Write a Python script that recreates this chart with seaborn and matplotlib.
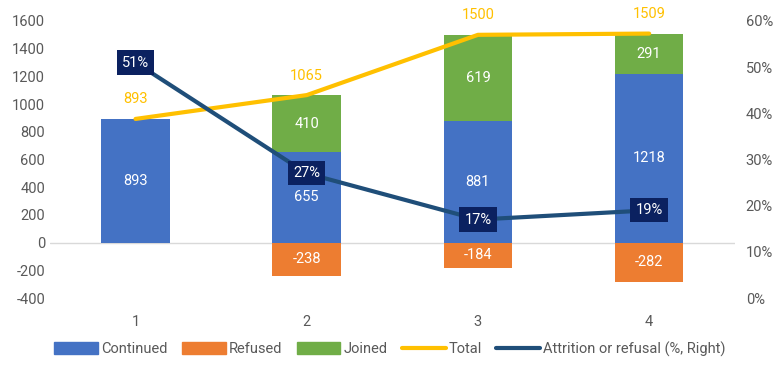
import matplotlib
matplotlib.use("Agg")
import matplotlib.pyplot as plt
import seaborn as sns
import pandas as pd
from matplotlib.lines import Line2D
from matplotlib.patches import Patch

# data
categories = ["1", "2", "3", "4"]
continued = [893, 655, 881, 1218]
refused = [0, -238, -184, -282]
joined = [0, 410, 619, 291]
total = [893, 1065, 1500, 1509]
attrition = [0.51, 0.27, 0.17, 0.19]

c_cont = "#4472C4"
c_ref = "#ED7D31"
c_join = "#70AD47"
c_tot = "#FFC000"
c_att = "#1F4E79"
c_box = "#0B2160"
grey = "#595959"

sns.set_style("white")
plt.rcParams["font.family"] = ["Roboto", "DejaVu Sans"]
plt.rcParams["axes.unicode_minus"] = False

fig = plt.figure(figsize=(7.8, 3.68), dpi=100)
ax = fig.add_axes([0.064, 0.19, 0.878, 0.753])

df = pd.DataFrame({"cat": categories, "continued": continued, "refused": refused,
                   "joined": joined, "total": total, "attrition": attrition})
pos = list(range(len(categories)))

sns.barplot(data=df, x="cat", y="continued", color=c_cont, width=0.4, saturation=1,
            linewidth=0, ax=ax)
sns.barplot(data=df, x="cat", y="refused", color=c_ref, width=0.4, saturation=1,
            linewidth=0, ax=ax)
sns.barplot(data=df, x="cat", y="joined", bottom=df["continued"], color=c_join,
            width=0.4, saturation=1, linewidth=0, ax=ax)

ax.axhline(0, color="#D9D9D9", lw=1, zorder=0)
sns.lineplot(x=pos, y=total, color=c_tot, lw=3, ax=ax, zorder=5)

# segment labels
for i in pos:
    ax.text(i, continued[i] / 2, str(continued[i]), ha="center", va="center",
            color="white", fontsize=10.5, zorder=6)
    if refused[i] != 0:
        ax.text(i, refused[i] / 2, str(refused[i]), ha="center", va="center",
                color="white", fontsize=10.5, zorder=6)
    if joined[i] != 0:
        ax.text(i, continued[i] + joined[i] / 2, str(joined[i]), ha="center", va="center",
                color="white", fontsize=10.5, zorder=6)
    ax.annotate(str(total[i]), (i, total[i]), xytext=(0, 9), textcoords="offset points",
                ha="center", va="bottom", color=c_tot, fontsize=10.5)

ax.set_xlim(-0.5, 3.5)
ax.set_ylim(-400, 1600)
ax.set_yticks(range(-400, 1601, 200))
ax.set_xlabel("")
ax.set_ylabel("")
ax.tick_params(colors=grey, labelsize=10.5, length=0)
ax.tick_params(axis="x", pad=12)
for s in ax.spines.values():
    s.set_visible(False)

ax2 = ax.twinx()
sns.lineplot(x=pos, y=attrition, color=c_att, lw=3, ax=ax2)
for i in pos:
    ax2.text(i, attrition[i], f"{attrition[i]:.0%}", ha="center", va="center",
             color="white", fontsize=10.5,
             bbox=dict(boxstyle="square,pad=0.35", fc=c_box, ec="none"))
ax2.set_ylim(0, 0.6)
ax2.set_yticks([0, 0.1, 0.2, 0.3, 0.4, 0.5, 0.6])
ax2.set_yticklabels([f"{int(round(t * 100))}%" for t in ax2.get_yticks()])
ax2.set_ylabel("")
ax2.tick_params(colors=grey, labelsize=10.5, length=0, pad=8)
for s in ax2.spines.values():
    s.set_visible(False)
ax2.set_xlim(-0.5, 3.5)

handles = [Patch(color=c_cont), Patch(color=c_ref), Patch(color=c_join),
           Line2D([], [], color=c_tot, lw=3), Line2D([], [], color=c_att, lw=3)]
labels = ["Continued", "Refused", "Joined", "Total", "Attrition or refusal (%, Right)"]
fig.legend(handles, labels, loc="center", bbox_to_anchor=(0.5, 0.052), ncol=5,
           frameon=False, fontsize=10.5, labelcolor=grey, handlelength=3.0,
           handleheight=0.8, columnspacing=1.0, handletextpad=0.2)

fig.savefig("out.png", dpi=100)
